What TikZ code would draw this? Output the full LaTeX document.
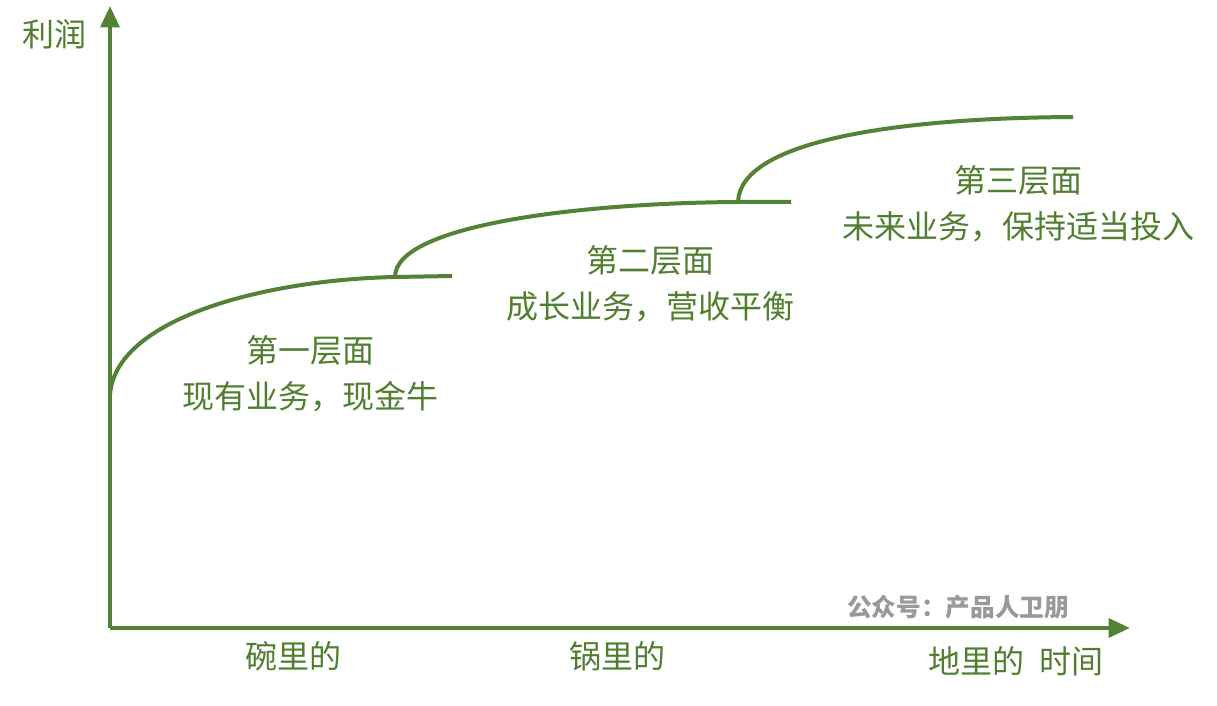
\documentclass[tikz,border=0pt]{standalone}
\usepackage{fontspec}
\setmainfont{Noto Sans CJK SC}
\usetikzlibrary{arrows.meta}
\definecolor{gr}{HTML}{538135}
\definecolor{tg}{HTML}{4F7F2F}
\tikzset{ax/.style={draw=gr,line width=3.2pt,-{Triangle[length=16pt,width=14pt]}},
cv/.style={draw=gr,line width=3pt},
lab/.style={text=tg,font=\fontsize{24}{28}\selectfont,align=center,inner sep=0}}
\begin{document}
\begin{tikzpicture}[x=0.75pt,y=-0.75pt]
\useasboundingbox (0,0) rectangle (1217,706);
\coordinate (o) at (110,628);
\coordinate (yt) at (110,6);
\coordinate (xt) at (1130,628);
\draw[ax] (o) -- (yt);
\draw[ax] (o) -- (xt);
\coordinate (a0) at (110,395);
\coordinate (a1) at (395,277);
\coordinate (a2) at (452,276);
\coordinate (b1) at (738,202);
\coordinate (b2) at (791,202);
\coordinate (c1) at (1073,117);
\draw[cv] (a0) .. controls (115,320) and (260,280) .. (a1) -- (a2);
\draw[cv] (a1) .. controls (395,225) and (580,203) .. (b1) -- (b2);
\draw[cv] (b1) .. controls (740,140) and (900,118) .. (c1);
\node[lab] (ylab) at (54,34) {利润};
\node[lab] (t1) at (310,350) {第一层面};
\node[lab] (s1) at (310,397) {现有业务，现金牛};
\node[lab] (t2) at (650,260) {第二层面};
\node[lab] (s2) at (650,307) {成长业务，营收平衡};
\node[lab] (t3) at (1018,180) {第三层面};
\node[lab] (s3) at (1018,227) {未来业务，保持适当投入};
\node[lab] (x1) at (293,656) {碗里的};
\node[lab] (x2) at (617,656) {锅里的};
\node[lab] (x3) at (1016,661) {地里的\ \ 时间};
\node[text=gray!80,font=\bfseries\fontsize{18.5}{22}\selectfont,inner sep=0] (wm) at (958,607) {公众号：产品人卫朋};
\end{tikzpicture}
\end{document}
